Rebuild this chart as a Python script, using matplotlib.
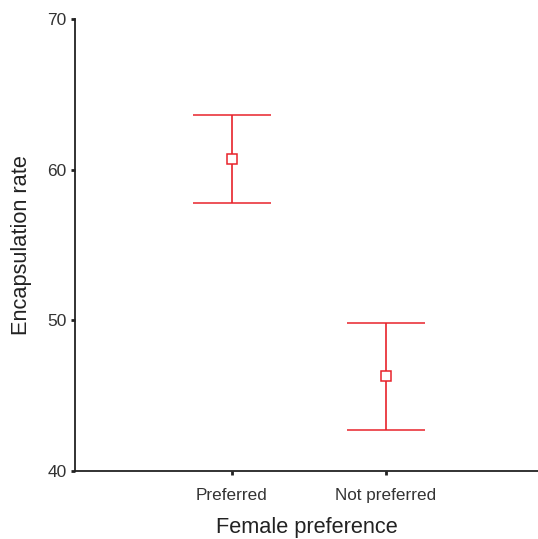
import numpy as np
import matplotlib.pyplot as plt

plt.rcParams['font.family'] = ['Liberation Sans', 'DejaVu Sans']

groups = ['Preferred', 'Not preferred']
means = [60.7, 46.3]
upper = [63.65, 49.85]
lower = [57.8, 42.75]

x = np.arange(1, len(groups) + 1)
yerr = [np.array(means) - np.array(lower), np.array(upper) - np.array(means)]

fig = plt.figure(figsize=(5.38, 5.39), dpi=100)
ax = fig.add_axes([75/538, 68/539, 1 - 75/538, (471 - 19)/539])

red = '#e8232b'
ax.errorbar(x, means, yerr=yerr, fmt='s', color=red, mfc='white', mec=red,
            ms=7, mew=1.1, ecolor=red, elinewidth=1.2, capsize=28, capthick=1.2)

ax.set_xlim(-0.02, 2.99)
ax.set_ylim(40, 70)
ax.set_xticks(x)
ax.set_xticklabels(groups, fontsize=12.3, color='#333333')
ax.set_yticks([40, 50, 60, 70])
ax.tick_params(axis='y', labelsize=12.5, labelcolor='#333333')
ax.tick_params(direction='out', length=3, width=2, color='#222222', pad=3)
ax.tick_params(axis='x', pad=9)

for s in ['top', 'right']:
    ax.spines[s].set_visible(False)
for s in ['left', 'bottom']:
    ax.spines[s].set_color('#222222')
    ax.spines[s].set_linewidth(1.3)

ax.set_xlabel('Female preference', fontsize=15.7, labelpad=10, color='#222222')
ax.set_ylabel('Encapsulation rate', fontsize=15.7, labelpad=11, color='#222222')

fig.savefig('out.png', dpi=100)
